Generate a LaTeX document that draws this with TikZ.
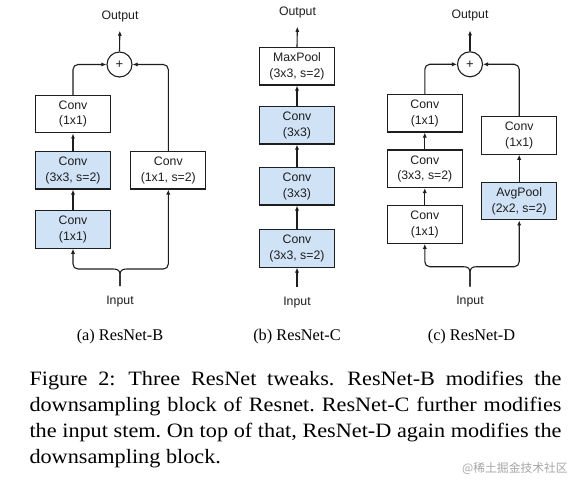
\documentclass[tikz,border=0pt]{standalone}
\usepackage{fontspec}
\setmainfont{Liberation Serif}
\newfontfamily\arial{Liberation Sans}
\newfontfamily\capfont[FakeStretch=1.09]{Liberation Serif}
\newfontfamily\cjk{Noto Sans CJK SC}
\usetikzlibrary{arrows.meta}
\definecolor{boxblue}{RGB}{208,226,245}
\definecolor{ink}{RGB}{30,30,30}
\frenchspacing
\begin{document}
\begin{tikzpicture}[x=1pt,y=-1pt,
 blk/.style={draw=ink, line width=1.1pt, minimum width=75pt, minimum height=37.5pt, inner sep=0pt, align=center, font=\arial\fontsize{12.3}{15.5}\selectfont, text=ink, fill=white},
 bluebox/.style={blk, fill=boxblue},
 lbl/.style={font=\arial\fontsize{12.3}{14}\selectfont, text=ink, inner sep=0pt},
 addc/.style={circle, draw=ink, line width=1.1pt, minimum size=25pt, inner sep=0pt, font=\arial\fontsize{13}{14}\selectfont, text=ink},
 arr/.style={draw=ink, line width=1.1pt, -{Latex[length=5pt,width=4.2pt]}},
 subcap/.style={font=\fontsize{16.3}{18}\selectfont, inner sep=0pt},
 captext/.style={font=\capfont\fontsize{20.4}{26}\selectfont, inner sep=0pt, anchor=base west},
]
\useasboundingbox (0,0) rectangle (575,486);
\fill[white] (0,0) rectangle (575,486);

% ---------- (a) ResNet-B ----------
\node[lbl] (outa) at (120,16) {Output};
\node[addc] (plusa) at (119.5,64.5) {+};
\node[blk] (a1) at (73,114.2) {Conv\\(1x1)};
\node[bluebox] (a2) at (73,170.3) {Conv\\(3x3, s=2)};
\node[bluebox] (a3) at (73,229.5) {Conv\\(1x1)};
\node[blk] (a4) at (168.3,170.3) {Conv\\(1x1, s=2)};
\node[lbl] (ina) at (120,301.7) {Input};
\coordinate (tipa) at (120,286);
\draw[arr, shorten >=9pt] (plusa.north) -- (outa.south);
\draw[arr, rounded corners=5pt] (a1.north) |- (plusa.west);
\draw[arr, rounded corners=5pt] (a4.north) |- (plusa.east);
\draw[arr] (a3.north) -- (a2.south);
\draw[arr] (a2.north) -- (a1.south);
\draw[arr] (tipa) -- (120,275) .. controls (120,270.5) and (118,269) .. (113,269) -- (78,269) .. controls (75,269) and (73,267) .. (73,264) -- (a3.south);
\draw[arr] (tipa) -- (120,275) .. controls (120,270.5) and (122,269) .. (127,269) -- (163.3,269) .. controls (166.3,269) and (168.3,267) .. (168.3,264) -- (a4.south);
\node[subcap] (capa) at (120,336.5) {(a) ResNet-B};

% ---------- (b) ResNet-C ----------
\node[lbl] (outb) at (297.5,12) {Output};
\node[blk] (b1) at (297,66.3) {MaxPool\\(3x3, s=2)};
\node[bluebox] (b2) at (297,125.3) {Conv\\(3x3)};
\node[bluebox] (b3) at (297,186.3) {Conv\\(3x3)};
\node[bluebox] (b4) at (297,248.3) {Conv\\(3x3, s=2)};
\node[lbl] (inb) at (297,302.3) {Input};
\coordinate (tipb) at (297,287);
\draw[arr, shorten >=9pt] (b1.north) -- (outb.south);
\draw[arr] (b2.north) -- (b1.south);
\draw[arr] (b3.north) -- (b2.south);
\draw[arr] (b4.north) -- (b3.south);
\draw[arr] (tipb) -- (b4.south);
\node[subcap] (capb) at (297,336.5) {(b) ResNet-C};

% ---------- (c) ResNet-D ----------
\node[lbl] (outc) at (470,15.7) {Output};
\node[addc] (plusc) at (470,64.3) {+};
\node[blk] (c1) at (424.8,113.3) {Conv\\(1x1)};
\node[blk] (c2) at (424.8,168.8) {Conv\\(3x3, s=2)};
\node[blk] (c3) at (424.8,224.6) {Conv\\(1x1)};
\node[blk] (c4) at (519.2,135.5) {Conv\\(1x1)};
\node[bluebox] (c5) at (519.2,201.2) {AvgPool\\(2x2, s=2)};
\node[lbl] (inc) at (470,301.7) {Input};
\coordinate (tipc) at (470,286.7);
\draw[arr, shorten >=9pt] (plusc.north) -- (outc.south);
\draw[arr, rounded corners=5pt] (c1.north) |- (plusc.west);
\draw[arr, rounded corners=5pt] (c4.north) |- (plusc.east);
\draw[arr] (c3.north) -- (c2.south);
\draw[arr] (c2.north) -- (c1.south);
\draw[arr] (c5.north) -- (c4.south);
\draw[arr] (tipc) -- (470,273) .. controls (470,268.2) and (468,266.7) .. (463,266.7) -- (429.8,266.7) .. controls (426.8,266.7) and (424.8,264.7) .. (424.8,261.7) -- (c3.south);
\draw[arr] (tipc) -- (470,273) .. controls (470,268.2) and (472,266.7) .. (477,266.7) -- (514.2,266.7) .. controls (517.2,266.7) and (519.2,264.7) .. (519.2,261.7) -- (c5.south);
\node[subcap] (capc) at (471.5,336.5) {(c) ResNet-D};

% ---------- caption ----------
\node[captext] (l1) at (29.3,385.7) {\hbox to 532pt{Figure 2:\hskip 0.25em plus 0.2em Three ResNet tweaks.\hskip 0.25em plus 0.2em ResNet-B modifies the}};
\node[captext] (l2) at (29.3,411.7) {\hbox to 532pt{downsampling block of Resnet. ResNet-C further modifies}};
\node[captext] (l3) at (29.3,437.7) {\hbox to 532pt{the input stem. On top of that, ResNet-D again modifies the}};
\node[captext] (l4) at (29.3,463.7) {downsampling block.};
\node[text=black!35, inner sep=0pt] (wm) at (515,468.5) {\cjk\fontsize{11.8}{13}\selectfont @稀土掘金技术社区};
\end{tikzpicture}
\end{document}
